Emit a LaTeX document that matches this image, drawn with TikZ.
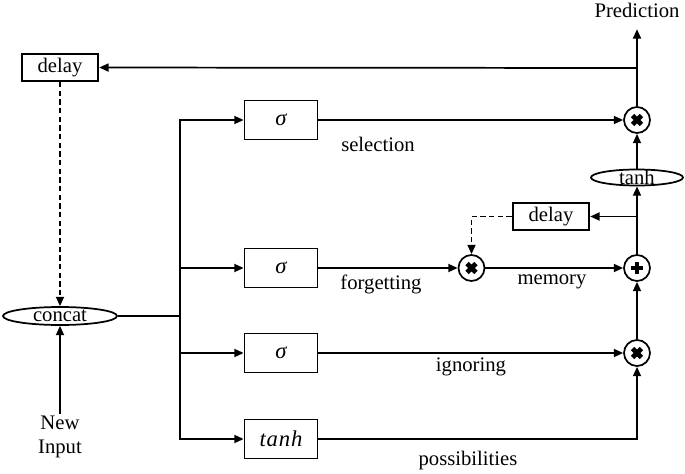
\documentclass[tikz,border=0pt]{standalone}
\usepackage{fontspec}
\setmainfont{Liberation Serif}
\usetikzlibrary{arrows.meta,shapes.geometric}

\newcommand{\gatesym}[1]{{\fontsize{17}{20}\selectfont\itshape #1}}

\begin{document}
\begin{tikzpicture}[x=0.75pt, y=-0.75pt, line width=1.3pt, font=\fontsize{15.5}{18}\selectfont,
  gatebox/.style={draw, minimum width=54.75pt, minimum height=29.25pt, inner sep=0pt},
  delaybox/.style={draw, minimum width=57.5pt, minimum height=20.25pt, inner sep=0pt},
  ring/.style={draw, ellipse, inner sep=0pt},
  mulop/.style={draw, circle, minimum size=19.5pt, inner sep=0pt,
    path picture={\draw[line width=3.6pt] (path picture bounding box.center) ++(-3.3pt,-3.3pt) -- ++(6.6pt,6.6pt)
      (path picture bounding box.center) ++(-3.3pt,3.3pt) -- ++(6.6pt,-6.6pt);}},
  addop/.style={draw, circle, minimum size=19.5pt, inner sep=0pt,
    path picture={\draw[line width=3.6pt] (path picture bounding box.center) ++(-4.8pt,0) -- ++(9.6pt,0)
      (path picture bounding box.center) ++(0,-4.8pt) -- ++(0,9.6pt);}},
  arr/.style={-{Triangle[length=7pt,width=6pt]}},
  dsh/.style={dash pattern=on 4pt off 2.5pt}]
\useasboundingbox (0,0) rectangle (685,474);

\coordinate (fork) at (180,316);
\coordinate (tap1) at (637,68);
\coordinate (tap2) at (637,216.5);

\node[delaybox] (d1) at (60,67.5) {delay};
\node[ring, minimum width=85.5pt, minimum height=13.5pt, label=center:concat] (concat) at (60,316) {};
\node[align=center, inner sep=1pt] (input) at (60,437) {New\\Input};

\node[gatebox] (sel) at (281,120) {\gatesym{σ}};
\node[gatebox] (fgt) at (281,268) {\gatesym{σ}};
\node[gatebox] (ign) at (281,353) {\gatesym{σ}};
\node[gatebox] (pos) at (281,439) {\gatesym{t\kern0.6pt a\kern0.6pt n\kern0.6pt h}};

\node[mulop] (msel) at (637,120) {};
\node[mulop] (mfgt) at (471.5,268) {};
\node[addop] (mem) at (637,268) {};
\node[mulop] (mign) at (637,353) {};
\node[ring, minimum width=69pt, minimum height=12pt, label=center:tanh] (th) at (637,177.5) {};
\node[delaybox] (d2) at (551,216.5) {delay};
\node (pred) at (637,10) {Prediction};

% gate inputs
\draw (concat) -- (fork);
\foreach \g in {sel,fgt,ign,pos}
{ \draw[arr] (fork) |- (\g); }
\draw[arr] (input) -- (concat);
\draw[arr, dsh] (d1) -- (concat);

% cell
\draw[arr] (sel) -- (msel);
\draw[arr] (fgt) -- (mfgt);
\draw[arr] (mfgt) -- (mem);
\draw[arr] (ign) -- (mign);
\draw[arr] (pos) -| (mign);
\draw[arr] (mign) -- (mem);
\draw[arr] (mem) -- (th);
\draw[arr] (th) -- (msel);
\draw[arr, shorten >=5pt] (msel) -- (pred);
\draw[arr] (tap2) -- (d2);
\draw[arr, dsh] (d2) -| (mfgt);
\draw[arr] (tap1) -- (d1);

\node at (378,144) {selection};
\node at (381,284) {forgetting};
\node at (552,282) {memory};
\node at (471,367) {ignoring};
\node at (468,461) {possibilities};
\end{tikzpicture}
\end{document}
